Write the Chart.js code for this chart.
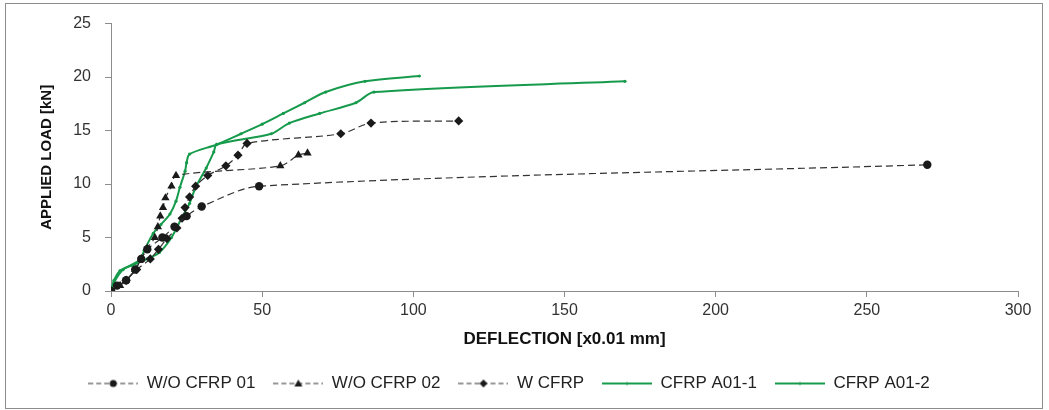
<!DOCTYPE html>
<html>
<head>
<meta charset="utf-8">
<script src="https://cdn.jsdelivr.net/npm/chart.js@4/dist/chart.umd.min.js"></script>
<style>
  html, body { margin: 0; padding: 0; background: #fff; }
  #frame { position: absolute; left: 5px; top: 3px; width: 1036px; height: 404px; border: 1px solid #8c8c8c; }
  #wrap { position: absolute; left: 0; top: 0; width: 1049px; height: 410px; }
</style>
</head>
<body>
<div id="frame"></div>
<div id="wrap"><canvas id="grafico" width="1049" height="410"></canvas></div>
<script>
// ===== DADOS (deflexão x0.01 mm, carga kN) =====
const woCfrp01 = [[0,0],[2,0.5],[5,1],[8,2],[10,3],[12,3.9],[17,5],[21,6],[25,7],[30,7.9],[49,9.8],[270,11.8]];
const woCfrp02 = [[0,0],[3,0.5],[5,1],[8,2],[10,3],[12,4],[14.5,5],[15.5,6],[16.3,7],[17.2,7.8],[18,8.7],[20,9.8],[21.5,10.8],[56,11.7],[62,12.7],[65,12.9]];
const wCfrp    = [[0,0],[5,1],[8.5,2],[13,3],[15.7,3.9],[18.5,4.9],[21.8,5.9],[23.5,6.8],[24.5,7.8],[26,8.8],[28,9.8],[32,10.8],[38,11.7],[42,12.7],[45,13.8],[76,14.7],[86,15.7],[115,15.9]];
const cfrpA011 = [[0,0],[1,0.8],[4,2],[9.5,2.9],[11,3.8],[14,5.4],[16.5,6.2],[19.5,7.2],[21.5,8.4],[22.8,9.7],[24.5,11.2],[25,12],[26,12.8],[35,13.7],[43,14.7],[50,15.6],[57,16.6],[64,17.6],[71,18.6],[84,19.6],[102,20.1]];
const cfrpA012 = [[0,0],[1,1],[3,1.9],[7,2.4],[12,3],[16,3.6],[20,5],[23.5,6.9],[26,8.2],[28,9.7],[31.5,11.5],[34,13],[35,13.7],[53,14.7],[59,15.7],[69,16.6],[81,17.6],[87,18.6],[170,19.6]];

const NOMES = ['W/O CFRP 01', 'W/O CFRP 02', 'W CFRP', 'CFRP A01-1', 'CFRP A01-2'];
const X_TICKS = [0, 50, 100, 150, 200, 250, 300];
const Y_TICKS = [0, 5, 10, 15, 20, 25];

const VERDE = '#169a4b';
const PRETO = '#1a1a1a';

// ===== ÍCONES DA LEGENDA =====
function iconeLegenda(tracejado, marcador, cor) {
  const c = document.createElement('canvas');
  c.width = 50; c.height = 14;
  const g = c.getContext('2d');
  g.strokeStyle = tracejado ? '#333' : cor;
  g.lineWidth = tracejado ? 1.2 : 2;
  g.setLineDash(tracejado ? [5, 3] : []);
  g.beginPath(); g.moveTo(0, 7); g.lineTo(50, 7); g.stroke();
  g.setLineDash([]);
  g.fillStyle = cor;
  g.beginPath();
  if (marcador === 'circle') g.arc(25, 7, 3.5, 0, Math.PI * 2);
  if (marcador === 'triangle') { g.moveTo(25, 3); g.lineTo(29, 10); g.lineTo(21, 10); g.closePath(); }
  if (marcador === 'rectRot') { g.moveTo(25, 3); g.lineTo(29, 7); g.lineTo(25, 11); g.lineTo(21, 7); g.closePath(); }
  if (marcador === 'dot') g.arc(25, 7, 1.5, 0, Math.PI * 2);
  g.fill();
  return c;
}

function serieTracejada(i, dados, marcador, raio) {
  return {
    label: NOMES[i],
    data: dados.map(p => ({ x: p[0], y: p[1] })),
    showLine: true,
    borderColor: '#333',
    borderWidth: 1.2,
    borderDash: [7, 4],
    pointStyle: marcador,
    pointRadius: raio,
    pointBackgroundColor: PRETO,
    pointBorderColor: PRETO,
    pointBorderWidth: 0,
    tension: 0.3,
    icone: iconeLegenda(true, marcador, PRETO),
  };
}

function serieVerde(i, dados) {
  return {
    label: NOMES[i],
    data: dados.map(p => ({ x: p[0], y: p[1] })),
    showLine: true,
    borderColor: VERDE,
    borderWidth: 2,
    pointStyle: 'circle',
    pointRadius: 1.6,
    pointBackgroundColor: VERDE,
    pointBorderColor: VERDE,
    pointBorderWidth: 0,
    tension: 0.3,
    icone: iconeLegenda(false, 'dot', VERDE),
  };
}

const datasets = [
  serieTracejada(0, woCfrp01, 'circle', 4.2),
  serieTracejada(1, woCfrp02, 'triangle', 4.8),
  serieTracejada(2, wCfrp, 'rectRot', 4.6),
  serieVerde(3, cfrpA011),
  serieVerde(4, cfrpA012),
];

const corEixo = '#8c8c8c';
const fonteTick = { family: '"Liberation Sans", Arial, sans-serif', size: 16 };

new Chart(document.getElementById('grafico'), {
  type: 'scatter',
  data: { datasets },
  options: {
    responsive: false,
    animation: false,
    events: [],
    layout: { padding: { top: 22, right: 31, left: 0, bottom: 8 } },
    plugins: {
      tooltip: { enabled: false },
      legend: {
        position: 'bottom',
        labels: {
          usePointStyle: true,
          pointStyleWidth: 50,
          padding: 18,
          color: '#222',
          font: { family: '"Liberation Sans", Arial, sans-serif', size: 17 },
          generateLabels: chart => chart.data.datasets.map((d, i) => ({
            text: d.label,
            pointStyle: d.icone,
            fontColor: '#222',
            datasetIndex: i,
            hidden: false,
            lineWidth: 0,
            strokeStyle: 'transparent',
            fillStyle: 'transparent',
          })),
        },
      },
    },
    scales: {
      x: {
        type: 'linear',
        min: 0, max: 300,
        afterBuildTicks: s => { s.ticks = X_TICKS.map(v => ({ value: v })); },
        afterFit: s => { s.height = 66; },
        ticks: { color: '#333', font: fonteTick, padding: 4 },
        grid: { drawOnChartArea: false, drawTicks: true, tickLength: 6, color: corEixo },
        border: { color: corEixo, width: 1 },
        title: {
          display: true,
          text: 'DEFLECTION [x0.01 mm]',
          color: '#111',
          font: { family: '"Liberation Sans", Arial, sans-serif', size: 17, weight: 'bold' },
          padding: { top: 0, bottom: 7 },
        },
      },
      y: {
        type: 'linear',
        min: 0, max: 25,
        afterBuildTicks: s => { s.ticks = Y_TICKS.map(v => ({ value: v })); },
        afterFit: s => { s.width = 111; },
        ticks: { color: '#333', font: fonteTick, padding: 14 },
        grid: { drawOnChartArea: false, drawTicks: true, tickLength: 6, color: corEixo },
        border: { color: corEixo, width: 1 },
        title: {
          display: true,
          text: 'APPLIED LOAD [kN]',
          color: '#111',
          font: { family: '"Liberation Sans", Arial, sans-serif', size: 15, weight: 'bold' },
          padding: { top: 38, bottom: 0 },
        },
      },
    },
  },
});
</script>
</body>
</html>
